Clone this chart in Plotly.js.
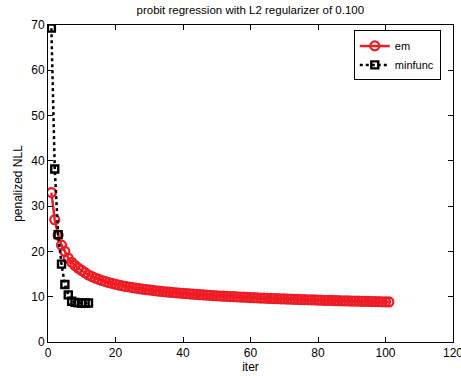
<!DOCTYPE html>
<html>
<head>
<meta charset="utf-8">
<script src="https://cdn.plot.ly/plotly-3.0.1.min.js"></script>
<style>html,body{margin:0;padding:0;background:#fff}#chart{width:461px;height:376px}</style>
</head>
<body>
<div id="chart"></div>
<script>
const emIter = Array.from({length: 101}, (_, i) => i + 1);
const emValues = [
  33.0, 27.0, 23.6, 21.4, 20.0, 18.5, 17.6, 16.9, 16.3, 15.8,
  15.3, 14.8, 14.45, 14.12, 13.84, 13.58, 13.35, 13.13, 12.94, 12.75,
  12.58, 12.42, 12.27, 12.14, 12.01, 11.90, 11.79, 11.68, 11.58, 11.49,
  11.40, 11.31, 11.22, 11.15, 11.07, 11.00, 10.93, 10.86, 10.80, 10.73,
  10.67, 10.61, 10.56, 10.50, 10.45, 10.40, 10.35, 10.30, 10.25, 10.21,
  10.16, 10.12, 10.08, 10.04, 10.00, 9.96, 9.92, 9.89, 9.85, 9.82,
  9.78, 9.75, 9.71, 9.68, 9.65, 9.62, 9.59, 9.56, 9.53, 9.51,
  9.48, 9.45, 9.42, 9.40, 9.37, 9.35, 9.33, 9.30, 9.28, 9.26,
  9.23, 9.21, 9.19, 9.17, 9.15, 9.12, 9.10, 9.08, 9.06, 9.04,
  9.02, 9.01, 8.99, 8.97, 8.95, 8.93, 8.91, 8.90, 8.88, 8.87,
  8.85
];
const minfuncIter = [1, 2, 3, 4, 5, 6, 7, 8, 9, 10, 11, 12];
const minfuncValues = [69.3, 38.2, 23.7, 17.2, 12.7, 10.4, 9.0, 8.75, 8.65, 8.6, 8.6, 8.6];
const seriesNames = ['em', 'minfunc'];
const titleText = 'probit regression with L2 regularizer of 0.100';
const xTitle = 'iter';
const yTitle = 'penalized NLL';

const font = 'Liberation Sans, Arial, Helvetica, sans-serif';
const red = 'rgb(238,28,36)';

const traces = [
  {
    x: emIter, y: emValues, name: seriesNames[0], type: 'scatter', mode: 'lines+markers',
    line: {color: red, width: 2.5},
    marker: {symbol: 'circle-open', size: 9, color: red, line: {width: 2.2, color: red}}
  },
  {
    x: minfuncIter, y: minfuncValues, name: seriesNames[1], type: 'scatter', mode: 'lines+markers',
    line: {color: '#000', width: 2.5, dash: 'dot'},
    marker: {symbol: 'square-open', size: 7, color: '#000', line: {width: 2.4, color: '#000'}}
  }
];

const axisCommon = {
  showgrid: false, zeroline: false, showline: true, linecolor: '#000', linewidth: 1,
  mirror: 'ticks', ticks: 'inside', ticklen: 5, tickwidth: 1, tickcolor: '#000',
  ticklabeloverflow: 'allow',
  tickfont: {family: font, size: 12, color: '#000'}
};

const layout = {
  width: 461, height: 376,
  margin: {l: 48, r: 8, t: 25, b: 34, pad: 0},
  paper_bgcolor: '#fff', plot_bgcolor: '#fff',
  font: {family: font, color: '#000'},
  title: {text: titleText, font: {family: font, size: 11.5, color: '#000'}, x: 0.543, xanchor: 'center', y: 0.985, yanchor: 'top'},
  xaxis: Object.assign({}, axisCommon, {range: [0, 120], dtick: 20, tick0: 0,
    title: {text: xTitle, font: {family: font, size: 12, color: '#000'}, standoff: 2}}),
  yaxis: Object.assign({}, axisCommon, {range: [0, 70], dtick: 10, tick0: 0,
    title: {text: yTitle, font: {family: font, size: 12, color: '#000'}, standoff: 6}}),
  showlegend: true,
  legend: {x: 0.755, y: 0.983, xanchor: 'left', yanchor: 'top', bgcolor: '#fff',
    bordercolor: '#000', borderwidth: 1, font: {family: font, size: 11, color: '#000'},
    itemwidth: 30, tracegroupgap: 0}
};

Plotly.newPlot('chart', traces, layout, {displayModeBar: false, staticPlot: true});
</script>
</body>
</html>
